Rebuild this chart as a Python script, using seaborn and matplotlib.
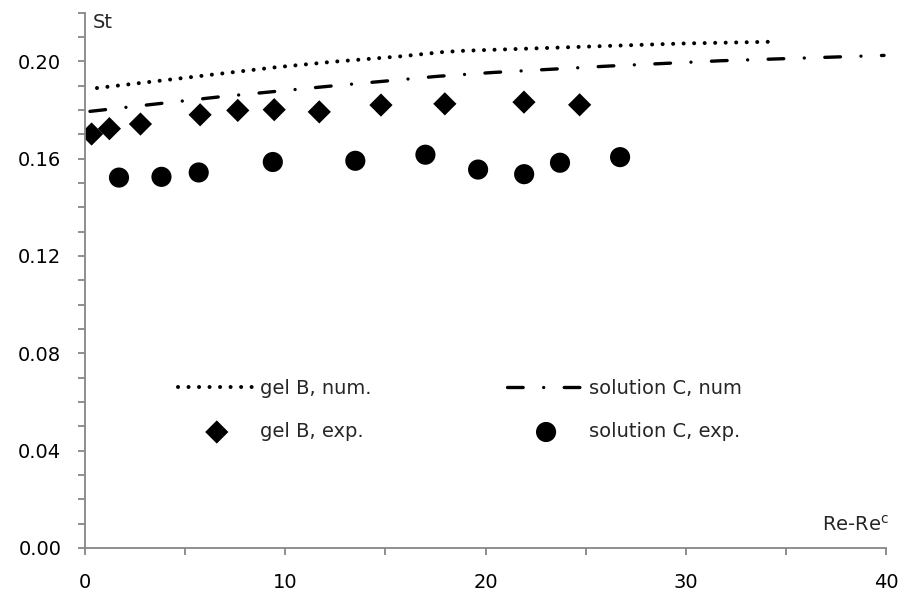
import matplotlib.pyplot as plt
import numpy as np
import pandas as pd
import seaborn as sns
from matplotlib.ticker import MultipleLocator, FixedLocator


sns.set_style("ticks")
plt.rcParams["font.family"] = ["DejaVu Sans"]

# numerical curves
gel_num_x = [0.6, 3.75, 7.4, 9.5, 12.4, 15.75, 17.9, 18.9, 25.75, 29.9, 34.2]
gel_num_st = [0.1890, 0.1920, 0.1955, 0.1975, 0.1998, 0.2020, 0.2038, 0.2043, 0.2062, 0.2073, 0.2080]
sol_num_x = [0.25, 6.75, 12.4, 17.6, 20.4, 26.1, 31.75, 39.9]
sol_num_st = [0.1794, 0.1854, 0.1899, 0.1938, 0.1954, 0.1980, 0.2002, 0.2024]

# experimental points
gel_exp_x = [0.33, 1.22, 2.77, 5.75, 7.63, 9.45, 11.7, 14.78, 17.97, 21.92, 24.7]
gel_exp_st = [0.1701, 0.1723, 0.1742, 0.1780, 0.1798, 0.1801, 0.1792, 0.1820, 0.1825, 0.1832, 0.1821]
sol_exp_x = [1.7, 3.82, 5.68, 9.38, 13.5, 17.0, 19.63, 21.93, 23.72, 26.72]
sol_exp_st = [0.1522, 0.1525, 0.1543, 0.1586, 0.1591, 0.1616, 0.1555, 0.1536, 0.1583, 0.1606]

y_major = [0.00, 0.04, 0.08, 0.12, 0.16, 0.20]
x_major = [0, 10, 20, 30, 40]

AXIS_GREY = "#868686"


def style_line(line, width, dashes):
    line.set_linewidth(width)
    line.set_linestyle((0, dashes))
    line.set_dash_capstyle("round")


def main() -> None:
    fig = plt.figure(figsize=(9.01, 5.93), dpi=100)
    ax = fig.add_axes([0.0943, 0.0759, 0.8891, 0.9029])

    sns.lineplot(x=gel_num_x, y=gel_num_st, ax=ax, color="black", label="gel B, num.")
    style_line(ax.lines[-1], 2.9, (0.01, 2.6))
    sns.lineplot(x=sol_num_x, y=sol_num_st, ax=ax, color="black", label="solution C, num")
    style_line(ax.lines[-1], 2.4, (4.7, 6.15, 0.01, 6.15))
    sns.scatterplot(x=gel_exp_x, y=gel_exp_st, ax=ax, color="black", marker="D",
                    s=140, edgecolor="none", label="gel B, exp.")
    sns.scatterplot(x=sol_exp_x, y=sol_exp_st, ax=ax, color="black", marker="o",
                    s=210, edgecolor="none", label="solution C, exp.")

    ax.set_xlim(0, 40)
    ax.set_ylim(0, 0.22)
    ax.xaxis.set_major_locator(FixedLocator(x_major))
    ax.xaxis.set_minor_locator(MultipleLocator(5))
    ax.yaxis.set_major_locator(FixedLocator(y_major))
    ax.yaxis.set_minor_locator(MultipleLocator(0.01))
    ax.set_yticklabels([f"{v:.2f}" for v in y_major])
    ax.set_xticklabels([str(v) for v in x_major])

    for side in ["top", "right"]:
        ax.spines[side].set_visible(False)
    for side in ["left", "bottom"]:
        ax.spines[side].set_color(AXIS_GREY)
        ax.spines[side].set_linewidth(1.3)

    ax.tick_params(axis="both", which="both", direction="out", color=AXIS_GREY,
                   width=1.3, length=5, labelsize=14, labelcolor="black")
    ax.tick_params(axis="y", which="major", pad=12)
    ax.tick_params(axis="x", which="major", pad=13)

    ax.set_xlabel("")
    ax.set_ylabel("")
    ax.text(0.01, 1.0, "St", transform=ax.transAxes, ha="left", va="top", fontsize=14)
    ax.text(1.004, 0.025, r"Re-Re$^\mathregular{c}$", transform=ax.transAxes,
            ha="right", va="bottom", fontsize=14)

    handles, labels = ax.get_legend_handles_labels()
    order = [0, 2, 1, 3]
    leg = ax.legend([handles[i] for i in order], [labels[i] for i in order],
                    ncol=2, frameon=False, fontsize=14, loc="upper left",
                    bbox_to_anchor=(0.116, 0.316), borderpad=0, borderaxespad=0,
                    handlelength=4.0, handletextpad=0.2, columnspacing=7.0,
                    labelspacing=1.25)
    for h in leg.legend_handles[:2]:
        pass

    fig.savefig("out.png", dpi=100)
    plt.close(fig)


if __name__ == "__main__":
    main()
